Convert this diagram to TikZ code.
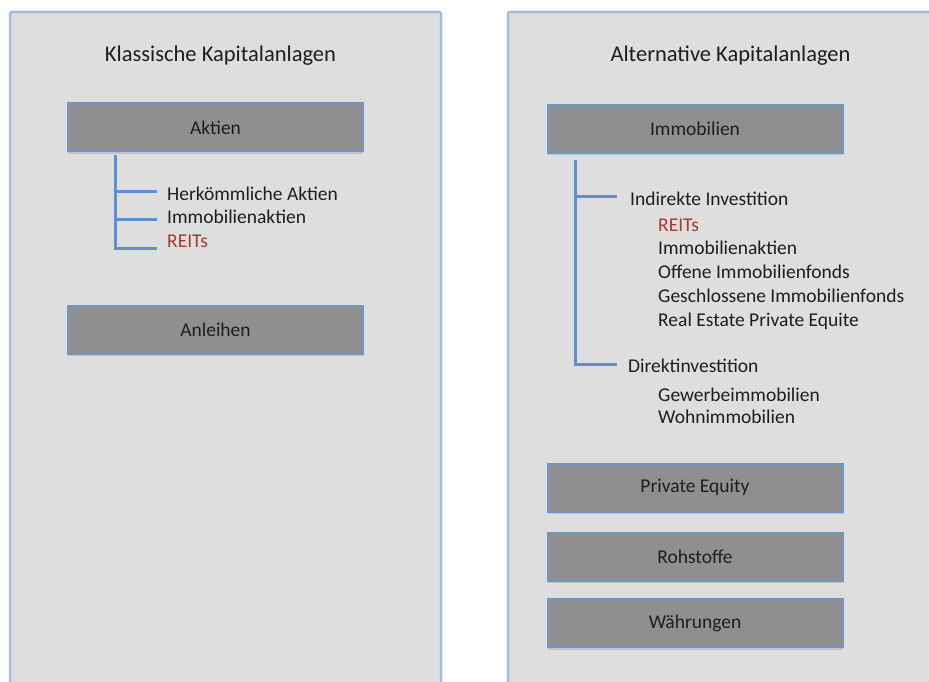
\documentclass[tikz,border=0pt]{standalone}
\usepackage{fontspec}
\setmainfont{Carlito}
\usetikzlibrary{shadows}

\definecolor{panelgray}{HTML}{DEDEDE}
\definecolor{panelblue}{HTML}{A3BCD9}
\definecolor{boxgray}{HTML}{8F8F8F}
\definecolor{boxblue}{HTML}{6F96C9}
\definecolor{treeblue}{HTML}{5E8FCF}
\definecolor{reitred}{HTML}{A33A30}
\definecolor{txtdark}{HTML}{1E1E1E}

\begin{document}
\begin{tikzpicture}[x=1pt, y=-1pt,
    panel/.style={fill=panelgray, draw=panelblue, line width=2.5pt, rounded corners=2pt},
    catbox/.style={draw=boxblue, fill=boxgray, line width=2pt, minimum width=295pt,
        minimum height=48pt, inner sep=0pt, text=txtdark, font=\fontsize{19.5}{23}\selectfont,
        drop shadow={shadow xshift=0pt, shadow yshift=-2.5pt, opacity=0.3}},
    headline/.style={anchor=base, text=txtdark, inner sep=0pt, font=\fontsize{22.5}{27}\selectfont},
    item/.style={anchor=base west, text=txtdark, inner sep=0pt, font=\fontsize{19.5}{23}\selectfont},
    branch/.style={draw=treeblue, line width=3pt}]

\clip (0,0) rectangle (929,682);

% Panels
\fill[white] (0,0) rectangle (929,682);
\draw[panel] (10,12) rectangle (441,700);
\draw[panel] (508,12) rectangle (960,700);

% Titles
\node[headline] (klassisch) at (220.5,62) {Klassische Kapitalanlagen};
\node[headline] (alternativ) at (730.5,62) {Alternative Kapitalanlagen};

% Left column
\node[catbox] (aktien) at (215.5,127.5) {Aktien};
\node[catbox] (anleihen) at (215.5,329.5) {Anleihen};

\node[item] (herk) at (167,200) {Herkömmliche Aktien};
\node[item] (immoakt) at (167,223) {Immobilienaktien};
\node[item, text=reitred] (reitsl) at (167,247) {REITs};

\coordinate (ltop) at (115,155);
\coordinate (lb1) at (157,191);
\coordinate (lb2) at (157,219);
\coordinate (lb3) at (157,248);
\draw[branch] (ltop) |- (lb3) (ltop |- lb1) -- (lb1) (ltop |- lb2) -- (lb2);

% Right column
\node[catbox] (immo) at (695,129) {Immobilien};
\node[catbox] (pe) at (695,487.5) {Private Equity};
\node[catbox] (rohstoffe) at (695,556.5) {Rohstoffe};
\node[catbox] (waehrung) at (695,623) {Währungen};

\node[item] (indirekt) at (630,205) {Indirekte Investition};
\node[item, text=reitred] (reitsr) at (658,231) {REITs};
\foreach \i/\yy/\txt in {1/254/Immobilienaktien, 2/278/Offene Immobilienfonds,
    3/302/Geschlossene Immobilienfonds, 4/326/Real Estate Private Equite} {
    \node[item] (ind-\i) at (658,\yy) {\txt};
}

\node[item] (direkt) at (628,372) {Direktinvestition};
\node[item] (gewerbe) at (658,401) {Gewerbeimmobilien};
\node[item] (wohn) at (658,423) {Wohnimmobilien};

\coordinate (rtop) at (575,160);
\coordinate (rb1) at (617,196);
\coordinate (rb2) at (617,364);
\draw[branch] (rtop) |- (rb2) (rtop |- rb1) -- (rb1);

\end{tikzpicture}
\end{document}
